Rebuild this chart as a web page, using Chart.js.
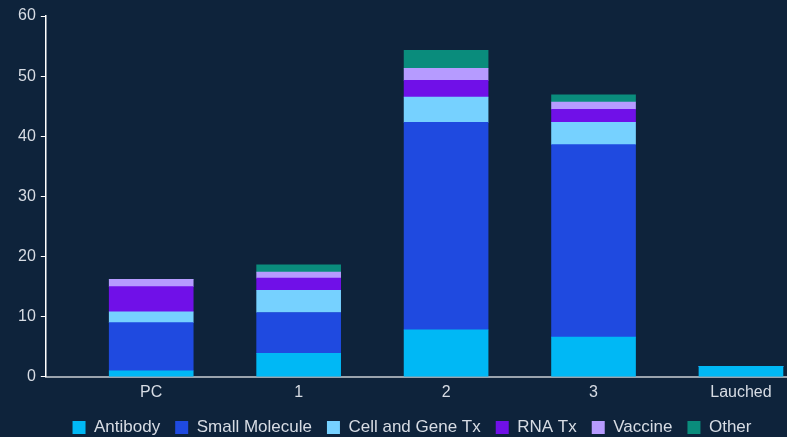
<!DOCTYPE html>
<html>
<head>
<meta charset="utf-8">
<script src="https://cdn.jsdelivr.net/npm/chart.js@4"></script>
<style>
  html, body { margin: 0; padding: 0; background: #0e233b; overflow: hidden; }
  #wrap { width: 811px; height: 437px; position: relative; }
</style>
</head>
<body>
<div id="wrap"><canvas id="res"></canvas></div>
<script>
// pipeline stage counts by modality
var categories = ["PC", "1", "2", "3", "Lauched"];
var antibody      = [1.0, 3.9, 7.8, 6.6, 1.75];
var smallMolecule = [8.0, 6.8, 34.5, 32.0, 0];
var cellGene      = [1.8, 3.7, 4.2, 3.7, 0];
var rnaTx         = [4.2, 2.0, 2.8, 2.2, 0];
var vaccine       = [1.2, 1.0, 2.0, 1.2, 0];
var other         = [0, 1.2, 3.0, 1.2, 0];
var yTicks = [0, 10, 20, 30, 40, 50, 60];

(function () {

    var ctx = document.getElementById("res").getContext('2d');
    var txt = '#d7dce4';
    var font = { family: "'Liberation Sans', Arial, sans-serif", size: 16 };
    var legendFont = { family: "'Liberation Sans', Arial, sans-serif", size: 17 };

    function pts(arr) {
        return categories.map(function (c, i) { return { x: i, y: arr[i] }; });
    }

    function ds(label, arr, color) {
        return {
            label: label,
            data: pts(arr),
            backgroundColor: color,
            borderWidth: 0,
            barThickness: 84
        };
    }

    const options = {
        type: 'bar',
        data: {
            datasets: [
                ds('Antibody', antibody, '#00b8f5'),
                ds('Small Molecule', smallMolecule, '#1f4ae0'),
                ds('Cell and Gene Tx', cellGene, '#76d1ff'),
                ds('RNA Tx', rnaTx, '#7010e8'),
                ds('Vaccine', vaccine, '#b69bff'),
                ds('Other', other, '#0a8c7c')
            ]
        },
        options: {
            responsive: true,
            maintainAspectRatio: false,
            animation: false,
            layout: { padding: { left: 13, top: 16, right: 0, bottom: -9 } },
            scales: {
                x: {
                    type: 'linear',
                    stacked: true,
                    offset: false,
                    min: -0.715,
                    max: 4.475,
                    afterBuildTicks: function (scale) {
                        scale.ticks = categories.map(function (c, i) { return { value: i }; });
                    },
                    // labels sit a bit closer to the legend than chart.js wants
                    afterFit: function (scale) { scale.height -= 4; },
                    grid: { display: false, drawTicks: false, offset: false },
                    border: { display: true, color: '#9aa3ad', width: 2 },
                    ticks: {
                        color: txt,
                        font: font,
                        padding: 6,
                        maxRotation: 0,
                        autoSkip: false,
                        callback: function (v) { return categories[v]; }
                    }
                },
                y: {
                    stacked: true,
                    min: 0,
                    max: 60,
                    afterBuildTicks: function (scale) {
                        scale.ticks = yTicks.map(function (v) { return { value: v }; });
                    },
                    grid: {
                        drawOnChartArea: false,
                        color: '#ffffff',
                        tickLength: 5
                    },
                    border: { display: true, color: '#ffffff', width: 1.5 },
                    ticks: { color: txt, font: font, padding: 5 }
                }
            },
            plugins: {
                legend: {
                    display: true,
                    position: 'bottom',
                    labels: {
                        color: txt,
                        font: legendFont,
                        boxWidth: 13,
                        boxHeight: 13,
                        padding: 15
                    }
                },
                tooltip: { enabled: false }
            }
        }
    };

    var myChart = new Chart(ctx, options);

})();
</script>
</body>
</html>
